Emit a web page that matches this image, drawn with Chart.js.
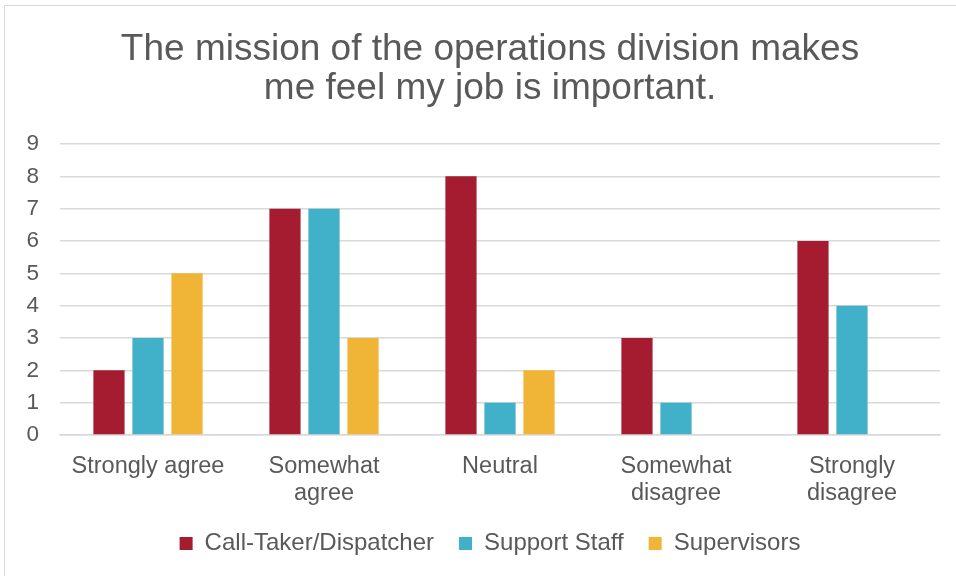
<!DOCTYPE html>
<html>
<head>
<meta charset="utf-8">
<script src="https://cdn.jsdelivr.net/npm/chart.js@4/dist/chart.umd.min.js"></script>
<style>
  html, body { margin: 0; padding: 0; background: #fff; }
  #wrap { position: relative; width: 956px; height: 576px; overflow: hidden; }
  #frame { position: absolute; left: 4px; top: 5px; width: 980px; height: 600px; border: 1px solid #d9d9d9; box-sizing: border-box; }
  canvas { position: absolute; left: 0; top: 0; }
</style>
</head>
<body>
<div id="wrap">
  <div id="frame"></div>
  <canvas id="barChart" width="980" height="576"></canvas>
</div>
<script>
var categorias = [['Strongly agree'], ['Somewhat', 'agree'], ['Neutral'], ['Somewhat', 'disagree'], ['Strongly', 'disagree']];
var callTaker = [2, 7, 8, 3, 6];
var supportStaff = [3, 7, 1, 1, 4];
var supervisors = [5, 3, 2, 0, 0];
var yTicks = [0, 1, 2, 3, 4, 5, 6, 7, 8, 9];

var gris = '#595959';
var fuente = "'Liberation Sans', Arial, sans-serif";

var ctx = document.getElementById('barChart').getContext('2d');
var barChart = new Chart(ctx, {
    type: 'bar',
    data: {
        labels: categorias,
        datasets: [{
            label: 'Call-Taker/Dispatcher',
            data: callTaker,
            backgroundColor: '#a51c30'
        }, {
            label: 'Support Staff',
            data: supportStaff,
            backgroundColor: '#41b0c9'
        }, {
            label: 'Supervisors',
            data: supervisors,
            backgroundColor: '#f0b436'
        }]
    },
    options: {
        responsive: false,
        animation: false,
        layout: { padding: { left: 0, right: 0, top: 0, bottom: 10.5 } },
        datasets: {
            bar: { categoryPercentage: 0.665, barPercentage: 0.8 }
        },
        plugins: {
            title: {
                display: true,
                text: ['The mission of the operations division makes', 'me feel my job is important.'],
                color: gris,
                font: { family: fuente, size: 37, weight: 'normal', lineHeight: 1.06 },
                padding: { top: 30.4, bottom: 35.2 }
            },
            legend: {
                position: 'bottom',
                labels: {
                    color: gris,
                    font: { family: fuente, size: 24 },
                    boxWidth: 13,
                    boxHeight: 13,
                    padding: 25
                }
            },
            tooltip: { enabled: false }
        },
        scales: {
            x: {
                afterFit: function (axis) { axis.height = 71.5; },
                grid: { display: false, drawTicks: false },
                border: { display: true, color: '#d9d9d9', width: 1.5 },
                ticks: {
                    color: gris,
                    font: { family: fuente, size: 23.5, lineHeight: 1.17 },
                    padding: 17.5,
                    maxRotation: 0
                }
            },
            y: {
                min: 0,
                max: 9,
                afterBuildTicks: function (axis) {
                    axis.ticks = yTicks.map(function (v) { return { value: v }; });
                },
                afterFit: function (axis) { axis.width = 60; },
                grid: { color: '#d9d9d9', lineWidth: 1.5, drawTicks: false },
                border: { display: false },
                ticks: {
                    color: gris,
                    font: { family: fuente, size: 22.5 },
                    padding: 21
                }
            },
            // espacio vacio a la derecha para centrar titulo y leyenda
            derecha: {
                type: 'linear',
                position: 'right',
                afterFit: function (axis) { axis.width = 40; },
                grid: { display: false, drawTicks: false },
                border: { display: false },
                ticks: { display: false }
            }
        }
    }
});
</script>
</body>
</html>
